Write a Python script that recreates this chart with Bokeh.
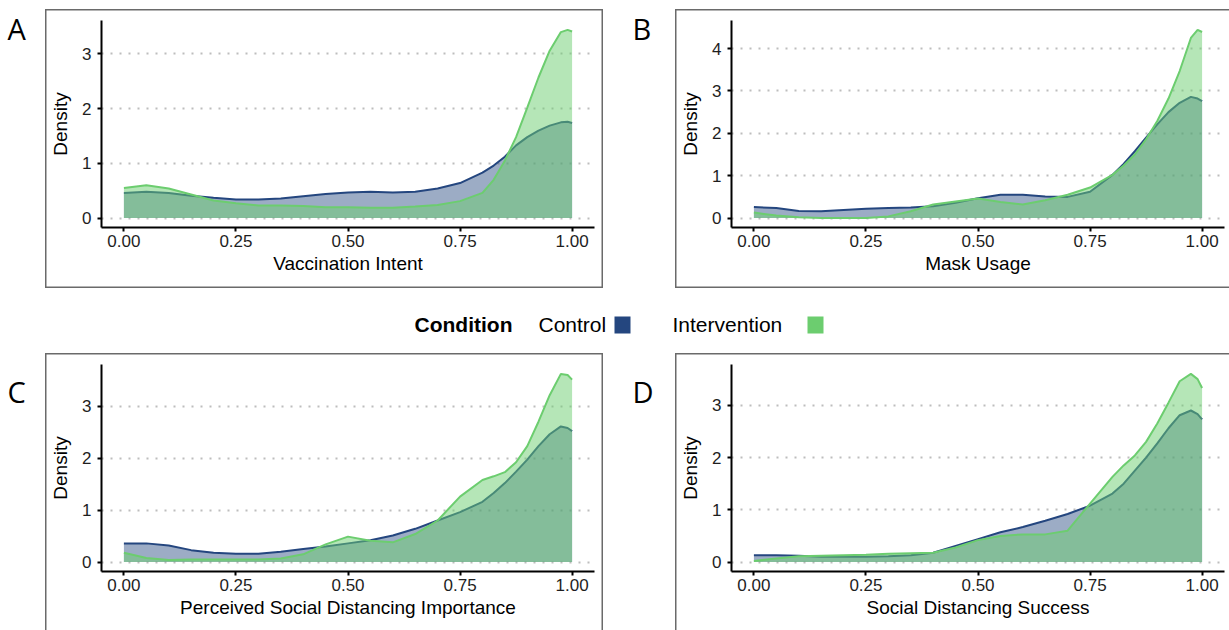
from bokeh.plotting import figure
from bokeh.layouts import row, column
from bokeh.models import Range1d, FixedTicker, Spacer
from bokeh.core.properties import value
from bokeh.embed import file_html
from bokeh.resources import INLINE

# ---------------- data ----------------
X = [0.0, 0.05, 0.1, 0.15, 0.2, 0.25, 0.3, 0.35, 0.4, 0.45, 0.5, 0.55, 0.6,
     0.65, 0.7, 0.75, 0.8, 0.825, 0.85, 0.875, 0.9, 0.925, 0.95, 0.975, 0.99, 1.0]

A_control = [0.46, 0.48, 0.46, 0.41, 0.37, 0.34, 0.34, 0.36, 0.40, 0.44, 0.47, 0.48, 0.47,
             0.48, 0.54, 0.64, 0.83, 0.96, 1.12, 1.33, 1.48, 1.60, 1.69, 1.75, 1.76, 1.74]
A_intervention = [0.55, 0.60, 0.54, 0.43, 0.32, 0.27, 0.23, 0.23, 0.22, 0.20, 0.20, 0.19, 0.19,
                  0.21, 0.24, 0.31, 0.46, 0.70, 1.05, 1.48, 2.02, 2.57, 3.06, 3.40, 3.44, 3.41]

B_control = [0.26, 0.24, 0.17, 0.16, 0.19, 0.22, 0.24, 0.25, 0.28, 0.36, 0.47, 0.55, 0.55,
             0.51, 0.50, 0.62, 1.02, 1.28, 1.58, 1.90, 2.21, 2.50, 2.72, 2.86, 2.82, 2.76]
B_intervention = [0.13, 0.06, 0.02, 0.00, 0.00, 0.00, 0.04, 0.16, 0.32, 0.39, 0.46, 0.38, 0.32,
                  0.42, 0.55, 0.72, 1.02, 1.24, 1.50, 1.86, 2.29, 2.82, 3.47, 4.25, 4.44, 4.39]

C_control = [0.36, 0.36, 0.32, 0.23, 0.18, 0.16, 0.16, 0.20, 0.25, 0.30, 0.36, 0.42, 0.51,
             0.64, 0.80, 0.96, 1.16, 1.33, 1.52, 1.74, 1.97, 2.23, 2.46, 2.61, 2.58, 2.52]
C_intervention = [0.18, 0.08, 0.04, 0.05, 0.05, 0.05, 0.05, 0.07, 0.15, 0.34, 0.49, 0.41, 0.38,
                  0.54, 0.80, 1.26, 1.58, 1.65, 1.73, 1.92, 2.23, 2.70, 3.21, 3.62, 3.60, 3.51]

D_control = [0.13, 0.13, 0.12, 0.10, 0.10, 0.10, 0.11, 0.13, 0.18, 0.31, 0.44, 0.57, 0.67,
             0.79, 0.92, 1.08, 1.31, 1.50, 1.75, 2.00, 2.27, 2.56, 2.81, 2.90, 2.83, 2.73]
D_intervention = [0.02, 0.07, 0.11, 0.12, 0.13, 0.14, 0.16, 0.17, 0.18, 0.28, 0.42, 0.50, 0.53,
                  0.53, 0.60, 1.12, 1.63, 1.85, 2.04, 2.30, 2.65, 3.05, 3.46, 3.60, 3.50, 3.33]

X_TICKS = [0.0, 0.25, 0.5, 0.75, 1.0]
X_TICK_LABELS = ["0.00", "0.25", "0.50", "0.75", "1.00"]
Y_TICKS_3 = [0, 1, 2, 3]
Y_TICKS_4 = [0, 1, 2, 3, 4]

PANEL_LETTERS = ["A", "B", "C", "D"]
X_TITLES = ["Vaccination Intent", "Mask Usage",
            "Perceived Social Distancing Importance", "Social Distancing Success"]
Y_TITLE = "Density"
LEGEND_TITLE = "Condition"
GROUPS = ["Control", "Intervention"]

# ---------------- styles ----------------
BLUE = "#24467F"
GREEN = "#6CCD6F"
FONT = "Liberation Sans"
LETTER_FONT = "Open Sans"
BOX = "#6a6a6a"
BW = "1.5px"


def shadow(sides):
    parts = []
    if "l" in sides:
        parts.append(f"inset {BW} 0 0 0 {BOX}")
    if "r" in sides:
        parts.append(f"inset -{BW} 0 0 0 {BOX}")
    if "t" in sides:
        parts.append(f"inset 0 {BW} 0 0 {BOX}")
    if "b" in sides:
        parts.append(f"inset 0 -{BW} 0 0 {BOX}")
    return ", ".join(parts)


def panel(xtitle, ctrl, inter, yticks, border_right, border_bottom, sides):
    ymax = max(max(ctrl), max(inter))
    p = figure(frame_width=493, frame_height=207,
               x_range=Range1d(-0.05, 1.05),
               y_range=Range1d(-0.05 * ymax, 1.05 * ymax),
               min_border_left=56, min_border_right=border_right,
               min_border_top=11, min_border_bottom=border_bottom,
               output_backend="svg", toolbar_location=None,
               styles={"box-shadow": shadow(sides)})
    p.border_fill_color = None
    p.background_fill_color = "white"
    p.outline_line_color = None
    p.xgrid.visible = False
    p.ygrid.grid_line_color = "#BDBDBD"
    p.ygrid.grid_line_dash = "2 7"
    p.ygrid.grid_line_width = 2

    p.varea(x=X, y1=0, y2=ctrl, fill_color=BLUE, fill_alpha=0.45)
    p.line(X, ctrl, line_color=BLUE, line_width=2)
    p.varea(x=X, y1=0, y2=inter, fill_color=GREEN, fill_alpha=0.5)
    p.line(X, inter, line_color=GREEN, line_width=2)

    p.xaxis.ticker = FixedTicker(ticks=X_TICKS)
    p.xaxis.major_label_overrides = dict(zip(X_TICKS, X_TICK_LABELS))
    p.yaxis.ticker = FixedTicker(ticks=yticks)
    p.xaxis.axis_label = xtitle
    p.yaxis.axis_label = Y_TITLE
    for ax in (p.xaxis, p.yaxis):
        ax.axis_line_width = 2
        ax.axis_line_color = "black"
        ax.major_tick_line_width = 2
        ax.major_tick_line_color = "black"
        ax.major_tick_out = 4
        ax.major_tick_in = 0
        ax.minor_tick_line_color = None
        ax.major_label_text_font = FONT
        ax.major_label_text_font_size = "17px"
        ax.major_label_text_color = "#1e1e1e"
        ax.axis_label_text_font = FONT
        ax.axis_label_text_font_size = "19px"
        ax.axis_label_text_font_style = "normal"
        ax.axis_label_text_color = "black"
    p.xaxis.major_label_standoff = 3
    p.xaxis.axis_label_standoff = 3
    p.yaxis.major_label_standoff = 6
    p.yaxis.axis_label_standoff = 8
    return p


def canvas(w, h):
    f = figure(frame_width=w, frame_height=h, x_range=Range1d(0, w), y_range=Range1d(h, 0),
               min_border=0, x_axis_location=None, y_axis_location=None,
               output_backend="svg", toolbar_location=None)
    f.grid.visible = False
    f.outline_line_color = None
    f.border_fill_color = None
    f.background_fill_color = None
    return f


def letter(w, h, txt, lx, ly):
    f = canvas(w, h)
    f.text(x=[lx], y=[ly], text=[txt], text_font=value(LETTER_FONT),
           text_font_size=value("29px"), text_baseline="middle",
           text_align="left", text_color="black")
    return f


pA = panel(X_TITLES[0], A_control, A_intervention, Y_TICKS_3, 9, 61, "lrtb")
pB = panel(X_TITLES[1], B_control, B_intervention, Y_TICKS_4, 5, 61, "ltb")
pC = panel(X_TITLES[2], C_control, C_intervention, Y_TICKS_3, 9, 59, "lrt")
pD = panel(X_TITLES[3], D_control, D_intervention, Y_TICKS_3, 5, 59, "lt")

# legend strip
leg = canvas(1229, 65)
leg.text(x=[414], y=[36], text=[LEGEND_TITLE], text_font=value(FONT),
         text_font_size=value("21px"), text_font_style="bold",
         text_baseline="middle", text_align="left", text_color="black")
leg.text(x=[538, 672], y=[36, 36], text=GROUPS, text_font=value(FONT),
         text_font_size=value("21px"), text_baseline="middle", text_align="left",
         text_color="black")
leg.quad(left=[614, 807], right=[630, 823], top=[28, 28], bottom=[45, 45],
         fill_color=[BLUE, GREEN], line_color=None)

top = row(letter(45, 288, PANEL_LETTERS[0], 7, 28),
          column(Spacer(height=9, width=558), pA),
          letter(72, 288, PANEL_LETTERS[1], 29, 28),
          column(Spacer(height=9, width=554), pB))
bottom = row(letter(45, 277, PANEL_LETTERS[2], 7, 27),
             pC,
             letter(72, 277, PANEL_LETTERS[3], 29, 27),
             pD)

layout = column(top, leg, bottom)

open("out.html", "w").write(file_html(layout, INLINE))
